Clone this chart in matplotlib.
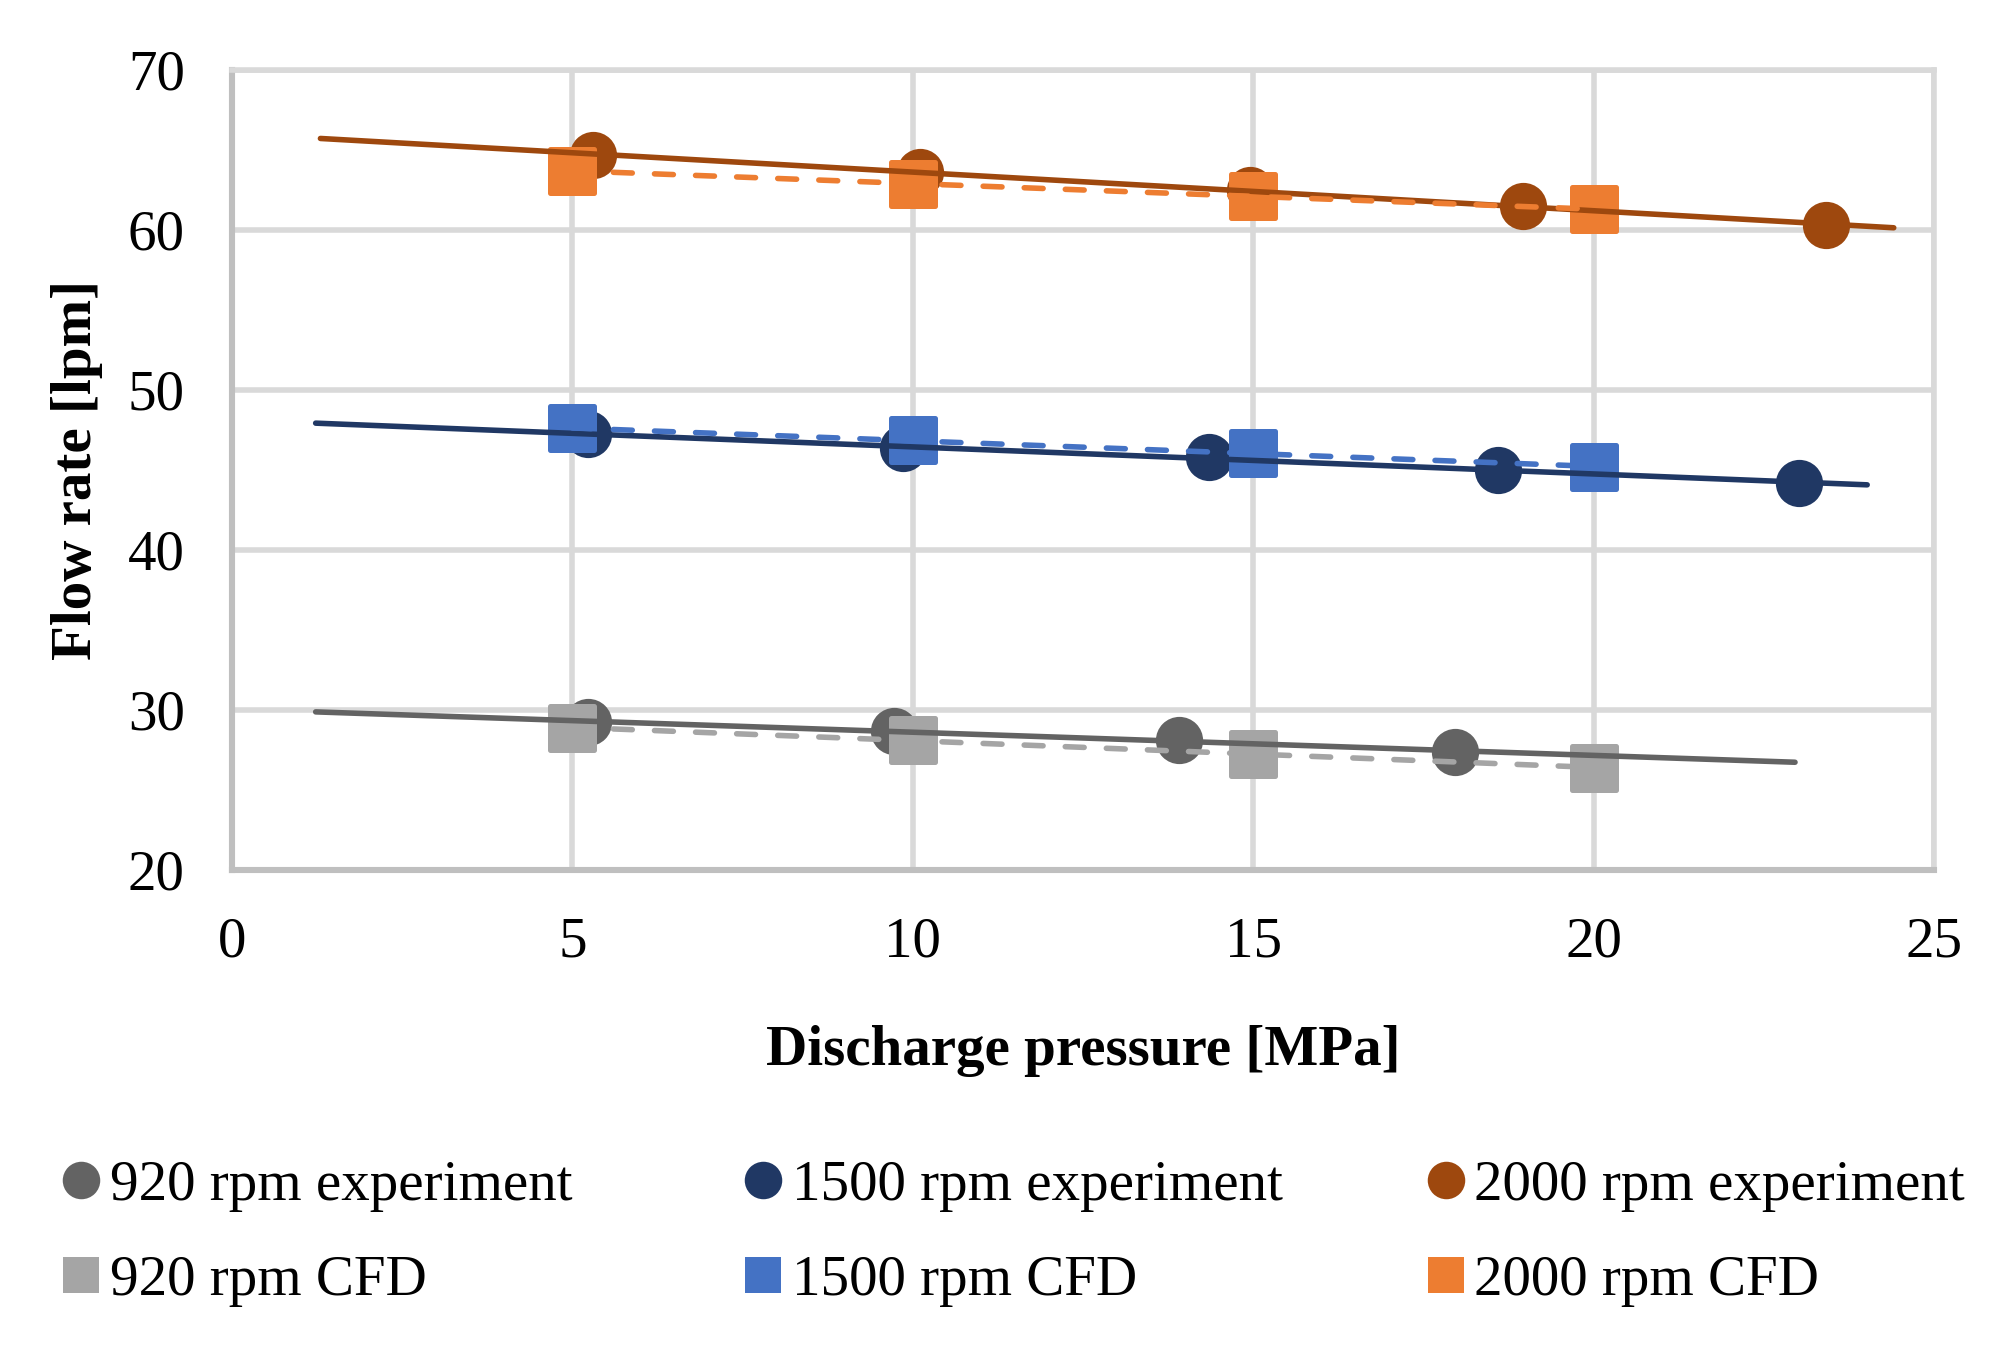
import numpy as np
import matplotlib.pyplot as plt
from matplotlib.lines import Line2D
from matplotlib.markers import MarkerStyle

plt.rcParams['font.family'] = ['Liberation Serif', 'DejaVu Serif']

# experiment data
p_920_exp = [5.23, 9.72, 13.91, 17.96]
q_920_exp = [29.25, 28.7, 28.1, 27.4]
p_1500_exp = [5.23, 9.86, 14.35, 18.6, 23.02]
q_1500_exp = [47.25, 46.4, 45.8, 45.0, 44.2]
p_2000_exp = [5.3, 10.1, 14.95, 18.96, 23.41]
q_2000_exp = [64.7, 63.6, 62.5, 61.5, 60.3]

# CFD data
p_cfd = [5, 10, 15, 20]
q_920_cfd = [28.9, 28.1, 27.25, 26.4]
q_1500_cfd = [47.6, 46.85, 46.05, 45.2]
q_2000_cfd = [63.7, 62.9, 62.1, 61.3]

labels = ['920 rpm experiment', '1500 rpm experiment', '2000 rpm experiment',
          '920 rpm CFD', '1500 rpm CFD', '2000 rpm CFD']
c_exp = ['#636363', '#203864', '#9E480E']
c_cfd = ['#A5A5A5', '#4472C4', '#ED7D31']
# trendline forecast (backward, forward) for the experiment series
forecast = [(4, 5), (4, 1), (4, 1)]

exp_x = [p_920_exp, p_1500_exp, p_2000_exp]
exp_y = [q_920_exp, q_1500_exp, q_2000_exp]
cfd_y = [q_920_cfd, q_1500_cfd, q_2000_cfd]

fs = 20.5
fig = plt.figure(figsize=(10.04, 6.82), dpi=200)
ax = fig.add_axes([0.1155, 0.3622, 0.8476, 0.5865])

circ = MarkerStyle('o')
sq = MarkerStyle('s', joinstyle='round')

for i in range(3):
    ax.plot(exp_x[i], exp_y[i], linestyle='none', marker=circ, ms=17,
            color=c_exp[i], mec=c_exp[i], mew=0, zorder=3)
for i in range(3):
    ax.plot(p_cfd, cfd_y[i], linestyle='none', marker=sq, ms=15.5,
            color=c_cfd[i], mec=c_cfd[i], mew=1.8, zorder=4)

# linear trendlines
for i in range(3):
    k, b = np.polyfit(exp_x[i], exp_y[i], 1)
    xs = np.array([min(exp_x[i]) - forecast[i][0], max(exp_x[i]) + forecast[i][1]])
    ax.plot(xs, k * xs + b, color=c_exp[i], lw=2.0, solid_capstyle='round', zorder=5)
for i in range(3):
    k, b = np.polyfit(p_cfd, cfd_y[i], 1)
    xs = np.array([min(p_cfd), max(p_cfd)])
    ax.plot(xs, k * xs + b, color=c_cfd[i], lw=2.0, ls=(0, (3.4, 4.0)),
            dash_capstyle='round', zorder=5)

ax.set_xlim(0, 25)
ax.set_ylim(20, 70)
ax.set_xticks(range(0, 26, 5))
ax.set_yticks(range(20, 71, 10))
ax.grid(True, color='#D9D9D9', lw=2.0, zorder=0)
ax.set_axisbelow(True)
for s in ['left', 'bottom']:
    ax.spines[s].set_color('#BFBFBF')
    ax.spines[s].set_linewidth(2.2)
for s in ['top', 'right']:
    ax.spines[s].set_color('#D9D9D9')
    ax.spines[s].set_linewidth(2.0)
ax.tick_params(axis='both', length=0, labelsize=fs)
ax.tick_params(axis='y', pad=17)
ax.tick_params(axis='x', pad=16.6)

ax.set_xlabel('Discharge pressure [MPa]', fontsize=fs, fontweight='bold', labelpad=20.5)
ax.set_ylabel('Flow rate [lpm]', fontsize=fs, fontweight='bold', labelpad=9)

# legend, three columns of two entries
col_x = [0.0319, 0.3715, 0.7116]
for i in range(3):
    h = [Line2D([], [], linestyle='none', marker='o', ms=13.5, color=c_exp[i], mew=0),
         Line2D([], [], linestyle='none', marker='s', ms=13, color=c_cfd[i], mew=0)]
    fig.legend(handles=h, labels=[labels[i], labels[i + 3]], loc='center left',
               bbox_to_anchor=(col_x[i], 0.0955), frameon=False, fontsize=fs,
               borderpad=0, borderaxespad=0, handlelength=0.6, handletextpad=0.2,
               labelspacing=0.75)

fig.savefig('out.png', dpi=200)
